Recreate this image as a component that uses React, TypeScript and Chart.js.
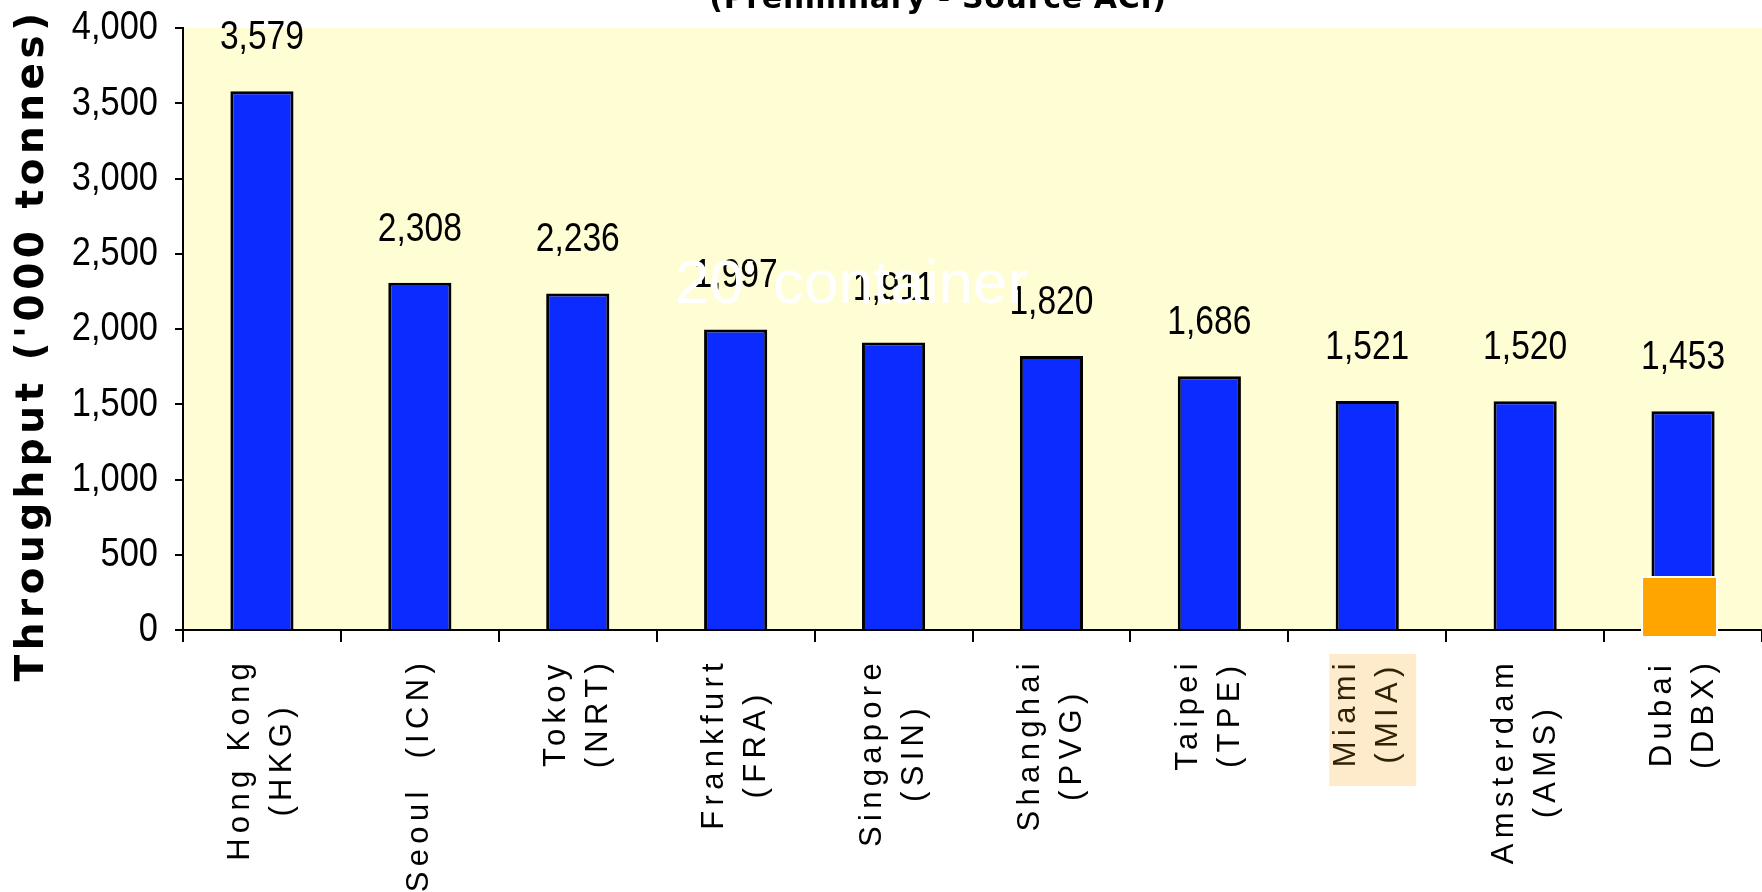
import { useEffect, useRef } from "react";
import { Chart, registerables } from "chart.js";

Chart.register(...registerables);

// ---- data ----
const categories: string[][] = [
  ["Hong Kong", "(HKG)"],
  ["Seoul  (ICN)"],
  ["Tokoy", "(NRT)"],
  ["Frankfurt", "(FRA)"],
  ["Singapore", "(SIN)"],
  ["Shanghai", "(PVG)"],
  ["Taipei", "(TPE)"],
  ["Miami", "(MIA)"],
  ["Amsterdam", "(AMS)"],
  ["Dubai", "(DBX)"],
];
const throughput: number[] = [3579, 2308, 2236, 1997, 1911, 1820, 1686, 1521, 1520, 1453];
const yTickValues: number[] = [0, 500, 1000, 1500, 2000, 2500, 3000, 3500, 4000];
const yAxisTitle = "Throughput ('000 tonnes)";
const chartTitle = "(Preliminary - Source ACI)";
const overlayText = "20' container";
const highlightedCategory = "Miami";
const markedCategory = "Dubai";

const fmt = (v: number) => Number(v).toLocaleString("en-US");

const SANS = '"Liberation Sans", Arial, sans-serif';
const NARROW_SCALE = 0.84;

function narrowText(ctx: any, text: string, x: number, y: number, align: string) {
  ctx.save();
  ctx.translate(x, y);
  ctx.scale(NARROW_SCALE, 1);
  ctx.textAlign = align;
  ctx.fillText(text, 0, 0);
  ctx.restore();
}

const customPlugin = {
  id: "customDraw",
  beforeDraw(chart: any) {
    const { ctx, chartArea } = chart;
    ctx.save();
    ctx.fillStyle = "#FFFDD3";
    ctx.fillRect(chartArea.left, chartArea.top, chartArea.right - chartArea.left, chartArea.bottom - chartArea.top);
    ctx.restore();
  },
  afterDatasetsDraw(chart: any) {
    const { ctx } = chart;
    const meta = chart.getDatasetMeta(0);
    ctx.save();
    ctx.font = `40px ${SANS}`;
    ctx.fillStyle = "#000";
    ctx.textBaseline = "alphabetic";
    meta.data.forEach((bar: any, i: number) => {
      narrowText(ctx, fmt(throughput[i]), bar.x, bar.y - 42, "center");
    });
    ctx.restore();
  },
  afterDraw(chart: any) {
    const { ctx, chartArea } = chart;
    const xs = chart.scales.x;
    const ys = chart.scales.y;
    const base = ys.getPixelForValue(0);

    // y tick labels
    ctx.save();
    ctx.font = `41px ${SANS}`;
    ctx.fillStyle = "#000";
    ctx.textBaseline = "middle";
    yTickValues.forEach((v) => {
      narrowText(ctx, fmt(v), chartArea.left - 25, ys.getPixelForValue(v), "right");
    });
    ctx.restore();

    // x labels
    ctx.save();
    ctx.font = `31px ${SANS}`;
    (ctx as any).letterSpacing = "5.3px";
    const top = base + 28;
    const lineH = 42;
    categories.forEach((lines, i) => {
      const x = xs.getPixelForValue(i);
      const widths = lines.map((l) => ctx.measureText(l).width);
      const maxW = Math.max(...widths);
      if (lines[0] === highlightedCategory) {
        ctx.fillStyle = "#FEEBCB";
        ctx.fillRect(x - 38, base + 24, 87, 132);
        ctx.fillStyle = "#2e2208";
      } else {
        ctx.fillStyle = "#000";
      }
      ctx.save();
      ctx.translate(x, top + maxW / 2);
      ctx.rotate(-Math.PI / 2);
      ctx.textAlign = "center";
      ctx.textBaseline = "middle";
      lines.forEach((l, j) => {
        ctx.fillText(l, 0, (j - (lines.length - 1) / 2) * lineH);
      });
      ctx.restore();
    });
    ctx.restore();

    // y axis title
    ctx.save();
    ctx.font = 'bold 39px "DejaVu Sans", Verdana, sans-serif';
    (ctx as any).letterSpacing = "4.5px";
    ctx.fillStyle = "#000";
    ctx.translate(33, 345);
    ctx.rotate(-Math.PI / 2);
    ctx.textAlign = "center";
    ctx.textBaseline = "middle";
    ctx.fillText(yAxisTitle, 0, 0);
    ctx.restore();

    // chart title (cut off at the top)
    ctx.save();
    ctx.font = 'bold 30px "DejaVu Sans", Verdana, sans-serif';
    (ctx as any).letterSpacing = "0.7px";
    ctx.fillStyle = "#000";
    ctx.textAlign = "center";
    ctx.textBaseline = "alphabetic";
    ctx.fillText(chartTitle, 938, 8);
    ctx.restore();

    // orange marker on Dubai
    const di = categories.findIndex((c) => c[0] === markedCategory);
    if (di >= 0) {
      const dx = xs.getPixelForValue(di);
      ctx.save();
      ctx.fillStyle = "#FFFFFF";
      ctx.fillRect(dx - 42, base - 54, 77, 62);
      ctx.fillStyle = "#FFA500";
      ctx.fillRect(dx - 40, base - 52, 73, 58);
      ctx.restore();
    }

    // white overlay text
    ctx.save();
    ctx.font = `62px ${SANS}`;
    ctx.fillStyle = "#FFFFFF";
    ctx.textAlign = "left";
    ctx.textBaseline = "alphabetic";
    ctx.fillText(overlayText, 675, 303);
    ctx.restore();
  },
};

export default function App() {
  const ref = useRef<HTMLCanvasElement | null>(null);
  useEffect(() => {
    if (!ref.current) return;
    const chart = new Chart(ref.current, {
      type: "bar",
      data: {
        labels: categories.map((c) => c.join(" ")),
        datasets: [
          {
            data: throughput,
            backgroundColor: "#0c2cff",
            borderColor: "#000000",
            borderWidth: 3,
            barPercentage: 0.4,
            categoryPercentage: 1,
          },
        ],
      },
      options: {
        animation: false,
        responsive: false,
        devicePixelRatio: 1,
        layout: { padding: { top: 28, right: 0, left: 0, bottom: 0 } },
        plugins: {
          legend: { display: false },
          tooltip: { enabled: false },
          title: { display: false },
        },
        scales: {
          x: {
            grid: {
              offset: true,
              drawOnChartArea: false,
              drawTicks: true,
              tickLength: 12,
              color: "#000",
              lineWidth: 2,
            },
            border: { color: "#000", width: 2 },
            ticks: { display: false },
            afterFit: (s: any) => {
              s.height = 262;
            },
          },
          y: {
            min: 0,
            max: 4000,
            afterBuildTicks: (s: any) => {
              s.ticks = yTickValues.map((v) => ({ value: v }));
            },
            grid: {
              drawOnChartArea: false,
              tickLength: 8,
              color: "#000",
              lineWidth: 2,
            },
            border: { color: "#000", width: 2 },
            ticks: { display: false },
            afterFit: (s: any) => {
              s.width = 183;
            },
          },
        },
      },
      plugins: [customPlugin],
    } as any);
    return () => chart.destroy();
  }, []);
  return (
    <canvas
      ref={ref}
      width={1762}
      height={892}
      style={{ position: "fixed", left: 0, top: 0, width: 1762, height: 892, background: "#fff" }}
    />
  );
}
